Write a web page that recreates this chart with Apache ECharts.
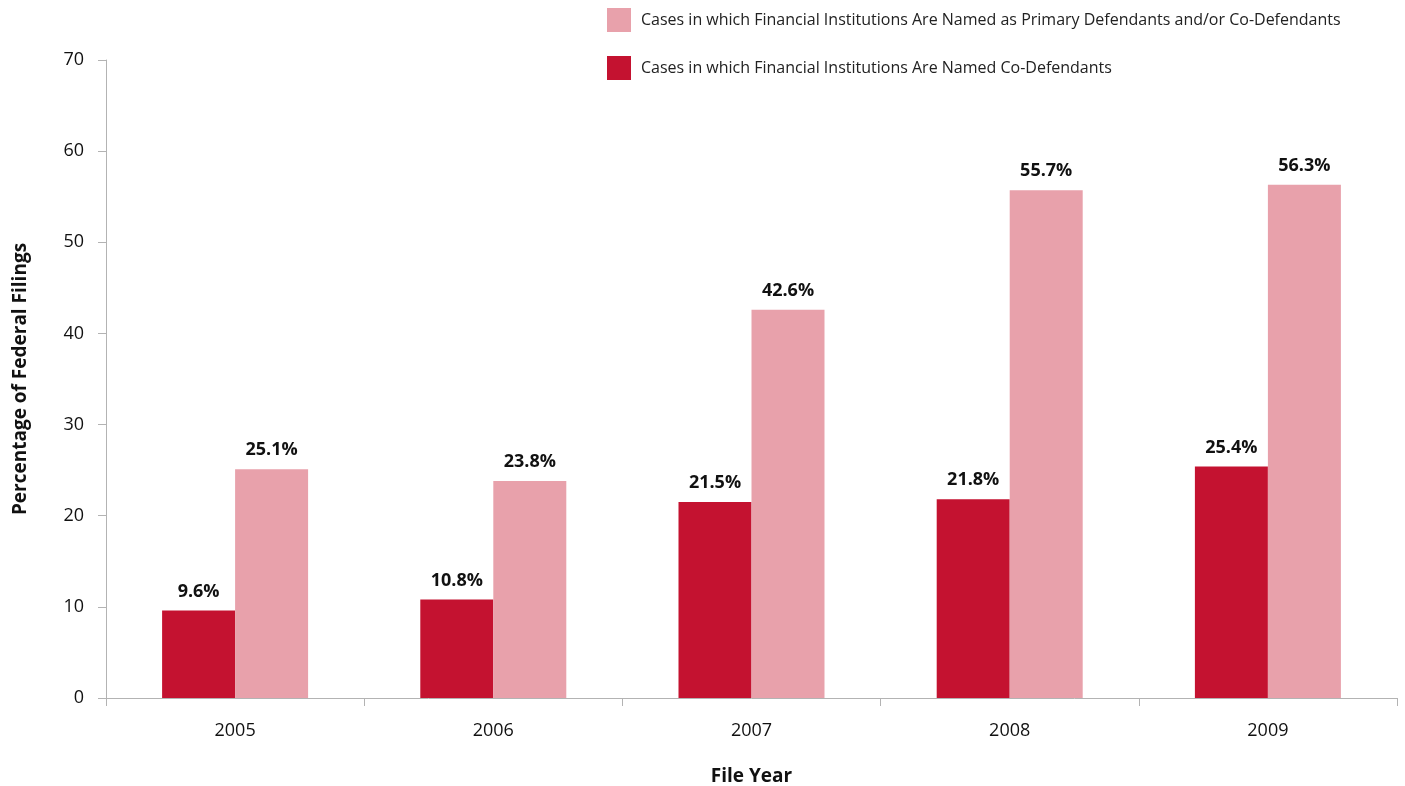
<!DOCTYPE html>
<html>
<head>
<meta charset="utf-8">
<script src="https://cdn.jsdelivr.net/npm/echarts@6/dist/echarts.min.js"></script>
<style>
  html, body { margin: 0; padding: 0; background: #fff; }
  #chart { width: 1405px; height: 786px; }
</style>
</head>
<body>
<div id="chart"></div>
<script>
// Filing years on the category axis
const years = ['2005', '2006', '2007', '2008', '2009'];
// Share of federal filings naming financial institutions as co-defendants (%)
const coDefendants = [9.6, 10.8, 21.5, 21.8, 25.4];
// Share naming them as primary defendants and/or co-defendants (%)
const primaryOrCo = [25.1, 23.8, 42.6, 55.7, 56.3];
// Value axis ticks
const yTicks = [0, 10, 20, 30, 40, 50, 60, 70];

const nameCo = 'Cases in which Financial Institutions Are Named Co-Defendants';
const namePrimary = 'Cases in which Financial Institutions Are Named as Primary Defendants and/or Co-Defendants';

const FONT = '"Open Sans", "Noto Sans", sans-serif';
const axisGray = '#b3b3b3';

const chart = echarts.init(document.getElementById('chart'), null, { renderer: 'canvas' });

const labelStyle = {
  show: true,
  position: 'top',
  distance: 10,
  fontFamily: FONT,
  fontWeight: 'bold',
  fontSize: 18,
  color: '#111',
  formatter: p => p.value.toFixed(1) + '%'
};

chart.setOption({
  animation: false,
  textStyle: { fontFamily: FONT },
  legend: {
    data: [namePrimary, nameCo],
    orient: 'vertical',
    left: 607,
    top: 8,
    padding: 0,
    itemWidth: 24,
    itemHeight: 24,
    itemGap: 24,
    icon: 'rect',
    textStyle: { fontFamily: FONT, fontSize: 16, color: '#222', padding: [0, 0, 0, 5] }
  },
  grid: { left: 106, right: 8, top: 60, bottom: 88, containLabel: false, outerBoundsMode: 'none' },
  xAxis: {
    type: 'category',
    data: years,
    name: 'File Year',
    nameLocation: 'middle',
    nameGap: 69,
    nameTextStyle: { fontFamily: FONT, fontWeight: 'bold', fontSize: 19, color: '#111' },
    axisLine: { lineStyle: { color: axisGray, width: 1 } },
    axisTick: { show: true, length: 8, lineStyle: { color: axisGray } },
    axisLabel: { margin: 24, fontSize: 18, color: '#111', fontFamily: FONT }
  },
  yAxis: {
    type: 'value',
    min: yTicks[0],
    max: yTicks[yTicks.length - 1],
    interval: yTicks[1] - yTicks[0],
    name: 'Percentage of Federal Filings',
    nameLocation: 'middle',
    nameGap: 76,
    nameTextStyle: { fontFamily: FONT, fontWeight: 'bold', fontSize: 19, color: '#111' },
    axisLine: { show: true, lineStyle: { color: axisGray, width: 1 } },
    axisTick: { show: true, length: 8, lineStyle: { color: axisGray } },
    axisLabel: { margin: 22, fontSize: 18, color: '#111', fontFamily: FONT },
    splitLine: { show: false }
  },
  series: [
    {
      name: nameCo,
      type: 'bar',
      data: coDefendants,
      barWidth: 73,
      barGap: '0%',
      itemStyle: { color: '#C41230' },
      label: labelStyle
    },
    {
      name: namePrimary,
      type: 'bar',
      data: primaryOrCo,
      barWidth: 73,
      barGap: '0%',
      itemStyle: { color: '#E8A1AB' },
      label: labelStyle
    }
  ]
});
</script>
</body>
</html>
